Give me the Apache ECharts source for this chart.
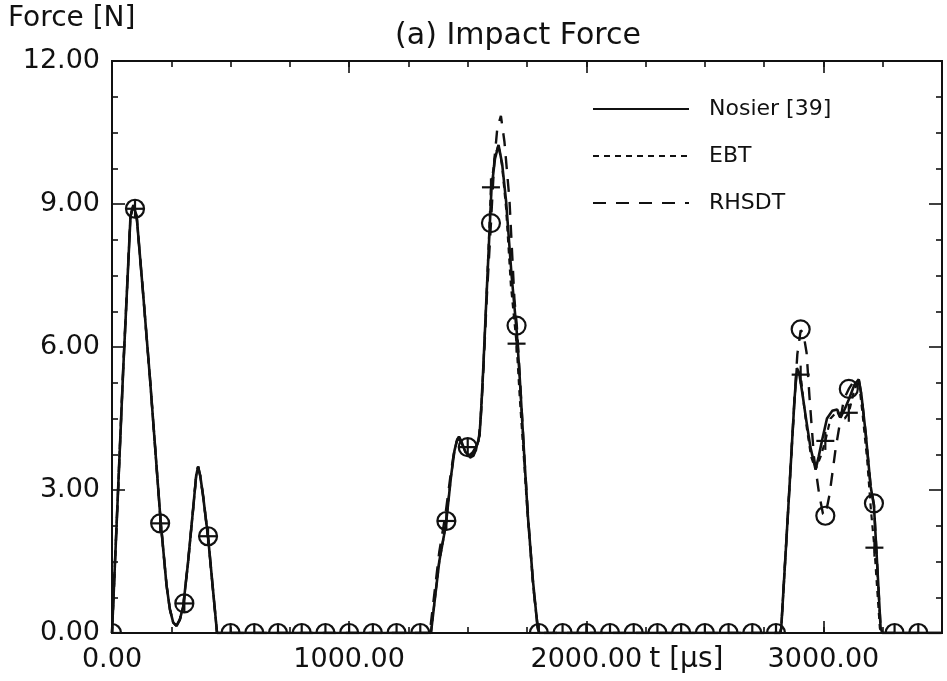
<!DOCTYPE html>
<html>
<head>
<meta charset="utf-8">
<script src="https://cdn.jsdelivr.net/npm/echarts@6/dist/echarts.min.js"></script>
<style>html,body{margin:0;padding:0;background:#fff}#c{width:947px;height:681px}</style>
</head>
<body>
<div id="c"></div>
<script>
// ---- data (t in microseconds, force in N) ----
const xLabelValues = [0, 1000, 2000, 3000];
const yLabelValues = [0, 3, 6, 9, 12];

const nosier = [
  [0,0],[47,5.5],[78,8.74],[90,8.98],[104,8.74],[132,7.07],[160,5.35],[205,2.35],[230,1.0],[244,0.5],
  [258,0.22],[272,0.15],[286,0.28],[300,0.55],[320,1.45],[342,2.6],[355,3.3],[363,3.49],[372,3.3],
  [384,2.88],[406,1.97],[425,0.95],[443,0],
  [1345,0],[1360,0.65],[1380,1.5],[1400,2.05],[1409,2.32],[1430,3.3],[1444,3.82],[1455,4.05],[1463,4.12],
  [1475,4.0],[1490,3.8],[1505,3.72],[1520,3.78],[1540,3.95],[1550,4.15],[1558,4.8],[1566,5.6],[1575,6.6],
  [1588,8.0],[1600,9.3],[1615,9.95],[1630,10.24],[1645,9.85],[1662,9.05],[1685,7.5],[1707,6.3],[1720,5.3],
  [1735,4.0],[1753,2.5],[1775,1.1],[1795,0.1],[1802,0],
  [2818,0],[2822,0.1],[2855,2.9],[2878,4.9],[2888,5.56],[2898,5.45],[2912,5.0],[2925,4.55],[2945,3.9],
  [2967,3.43],[2980,3.7],[2995,4.06],[3015,4.5],[3037,4.66],[3058,4.69],[3072,4.52],[3090,4.7],[3107,4.9],
  [3130,5.2],[3149,5.32],[3160,5.0],[3178,4.2],[3199,3.08],[3213,2.67],[3227,1.41],[3241,0.12],[3248,0],
  [3500,0]
];

const ebt = [
  [0,0],[47,5.5],[78,8.74],[90,8.98],[104,8.74],[132,7.07],[160,5.35],[205,2.35],[230,1.0],[244,0.5],
  [258,0.22],[272,0.15],[286,0.28],[300,0.55],[320,1.45],[342,2.6],[355,3.3],[363,3.49],[372,3.3],
  [384,2.88],[406,1.97],[425,0.95],[443,0],
  [1345,0],[1360,0.65],[1380,1.5],[1400,2.05],[1409,2.32],[1430,3.3],[1444,3.82],[1455,4.05],[1463,4.12],
  [1475,4.0],[1490,3.8],[1505,3.72],[1520,3.78],[1540,3.95],[1550,4.15],[1558,4.8],[1566,5.6],[1575,6.6],
  [1588,8.1],[1598,9.35],[1615,10.0],[1630,10.24],[1645,9.8],[1662,8.9],[1682,7.3],[1706,6.07],[1720,4.9],
  [1735,3.8],[1753,2.45],[1775,1.05],[1795,0.1],[1802,0],
  [2818,0],[2822,0.1],[2855,2.9],[2878,4.9],[2888,5.5],[2904,5.42],[2915,4.9],[2930,4.3],[2948,3.7],
  [2967,3.43],[2988,3.7],[3008,4.03],[3030,4.5],[3058,4.65],[3072,4.5],[3090,4.5],[3107,4.62],
  [3130,5.1],[3149,5.3],[3165,4.6],[3185,3.6],[3200,2.6],[3215,1.79],[3227,0.9],[3238,0.1],[3245,0],
  [3500,0]
];

const rhsdt = [
  [0,0],[47,5.5],[78,8.74],[90,8.98],[104,8.74],[132,7.07],[160,5.35],[205,2.35],[230,1.0],[244,0.5],
  [258,0.22],[272,0.15],[286,0.28],[300,0.55],[320,1.45],[342,2.6],[355,3.3],[363,3.49],[372,3.3],
  [384,2.88],[406,1.97],[425,0.95],[443,0],
  [1340,0],[1360,0.85],[1380,1.7],[1405,2.45],[1430,3.4],[1444,3.85],[1458,4.08],[1470,4.02],[1490,3.8],
  [1510,3.68],[1525,3.72],[1545,4.0],[1555,4.5],[1565,5.4],[1580,7.0],[1598,8.6],[1612,9.9],[1625,10.6],
  [1640,10.85],[1655,10.3],[1676,9.09],[1697,7.0],[1707,6.45],[1722,5.2],[1740,3.6],[1758,2.2],[1778,0.9],
  [1797,0.05],[1803,0],
  [2818,0],[2822,0.1],[2855,2.9],[2878,4.9],[2890,5.85],[2904,6.35],[2915,6.3],[2929,5.88],[2941,4.97],
  [2960,3.7],[2982,2.91],[2998,2.5],[3008,2.46],[3026,2.91],[3051,3.85],[3086,4.9],[3107,5.12],[3128,5.28],
  [3149,5.32],[3160,5.0],[3178,4.2],[3199,3.08],[3213,2.7],[3227,1.41],[3241,0.12],[3248,0],
  [3500,0]
];

const zeroMarkerTimes = [0,500,600,700,800,900,1000,1100,1200,1300,
  1800,1900,2000,2100,2200,2300,2400,2500,2600,2700,2800,3300,3400];

const circleMarkers = [
  [97,8.9],[203,2.3],[305,0.62],[405,2.03],[1410,2.35],[1500,3.9],[1598,8.6],[1706,6.45],
  [2904,6.37],[3008,2.46],[3107,5.12],[3213,2.72]
].concat(zeroMarkerTimes.map(t => [t, 0]));

const plusMarkers = [
  [97,8.9],[203,2.3],[305,0.62],[405,2.03],[1410,2.35],[1500,3.9],[1598,9.35],[1706,6.07],
  [2904,5.42],[3008,4.03],[3107,4.62],[3215,1.79]
].concat(zeroMarkerTimes.map(t => [t, 0]));

// ---- styling ----
const FONT = 'DejaVu Sans';
const INK = '#111';
const R = 9;

const chart = echarts.init(document.getElementById('c'), null, {renderer: 'canvas'});

function xAxisDef(position, interval, len, labels) {
  return {
    type: 'value', position, min: 0, max: 3500, interval,
    axisLine: {show: true, onZero: false, lineStyle: {color: INK, width: 2}},
    axisTick: {show: true, inside: true, length: len, lineStyle: {color: INK, width: 1.6}},
    axisLabel: labels ? {
      show: true, fontFamily: FONT, fontSize: 27, color: INK, margin: 13,
      formatter: v => xLabelValues.indexOf(v) >= 0 ? v.toFixed(2) : ''
    } : {show: false},
    splitLine: {show: false}
  };
}
function yAxisDef(position, labels) {
  return {
    type: 'value', position, min: 0, max: 12, interval: 3,
    axisLine: {show: true, onZero: false, lineStyle: {color: INK, width: 2}},
    axisTick: {show: true, inside: true, length: 13, lineStyle: {color: INK, width: 1.6}},
    minorTick: {show: true, splitNumber: 4, length: 6, lineStyle: {color: INK, width: 1.6}},
    axisLabel: labels ? {
      show: true, fontFamily: FONT, fontSize: 27, color: INK, margin: 12,
      formatter: v => yLabelValues.indexOf(v) >= 0 ? v.toFixed(2) : ''
    } : {show: false},
    splitLine: {show: false}, minorSplitLine: {show: false}
  };
}

function markerSeries(name, data, kind) {
  return {
    type: 'custom', name, data, clip: true, z: 5, silent: true,
    xAxisIndex: 0, yAxisIndex: 0,
    encode: {x: 0, y: 1},
    renderItem: (params, api) => {
      const p = api.coord([api.value(0), api.value(1)]);
      if (kind === 'circle') {
        return {type: 'circle', shape: {cx: p[0], cy: p[1], r: R},
          style: {fill: 'none', stroke: INK, lineWidth: 2.2}};
      }
      return {type: 'group', children: [
        {type: 'line', shape: {x1: p[0] - R, y1: p[1], x2: p[0] + R, y2: p[1]}, style: {stroke: INK, lineWidth: 2.2}},
        {type: 'line', shape: {x1: p[0], y1: p[1] - R, x2: p[0], y2: p[1] + R}, style: {stroke: INK, lineWidth: 2.2}}
      ]};
    }
  };
}

function lineSeries(name, data, type, width, z) {
  return {
    type: 'line', name, data, xAxisIndex: 0, yAxisIndex: 0,
    symbol: 'none', showSymbol: false, smooth: false, z, silent: true,
    lineStyle: {color: INK, width, type},
    itemStyle: {color: INK}
  };
}

const option = {
  animation: false,
  backgroundColor: '#fff',
  textStyle: {fontFamily: FONT, color: INK},
  grid: {left: 112, right: 5, top: 61, bottom: 48, containLabel: false, outerBoundsMode: 'none'},
  xAxis: [
    xAxisDef('bottom', 250, 6, true),
    xAxisDef('bottom', 1000, 12, false),
    xAxisDef('top', 250, 6, false),
    xAxisDef('top', 1000, 12, false)
  ],
  yAxis: [yAxisDef('left', true), yAxisDef('right', false)],
  legend: {
    data: ['Nosier [39]', 'EBT', 'RHSDT'],
    orient: 'vertical', left: 587, top: 92,
    itemWidth: 96, itemHeight: 14, itemGap: 23,
    selectedMode: false,
    itemStyle: {color: 'rgba(0,0,0,0)', borderWidth: 0, opacity: 0},
    textStyle: {fontFamily: FONT, fontSize: 22, color: INK, padding: [0, 0, 0, 15], lineHeight: 24}
  },
  series: [
    lineSeries('EBT', ebt, [6, 5], 2.2, 2),
    lineSeries('RHSDT', rhsdt, [13, 10], 2.4, 3),
    lineSeries('Nosier [39]', nosier, 'solid', 2.6, 4),
    markerSeries('RHSDT markers', circleMarkers, 'circle'),
    markerSeries('EBT markers', plusMarkers, 'plus')
  ]
};
chart.setOption(option);

const x2000 = chart.convertToPixel({xAxisIndex: 0}, 2000);
chart.setOption({
  graphic: [
    {type: 'text', x: 518, y: 36, silent: true,
     style: {text: '(a) Impact Force', font: '30px "DejaVu Sans"', fontFamily: FONT, fontSize: 30,
             fill: INK, align: 'center', textAlign: 'center', verticalAlign: 'middle', textVerticalAlign: 'middle'}},
    {type: 'text', x: 8, y: 19, silent: true,
     style: {text: 'Force [N]', font: '28px "DejaVu Sans"', fontFamily: FONT, fontSize: 28,
             fill: INK, align: 'left', textAlign: 'left', verticalAlign: 'middle', textVerticalAlign: 'middle'}},
    {type: 'text', x: x2000 + 63, y: 660, silent: true,
     style: {text: 't [μs]', font: '28px "DejaVu Sans"', fontFamily: FONT, fontSize: 28,
             fill: INK, align: 'left', textAlign: 'left', verticalAlign: 'middle', textVerticalAlign: 'middle'}}
  ]
});
</script>
</body>
</html>
